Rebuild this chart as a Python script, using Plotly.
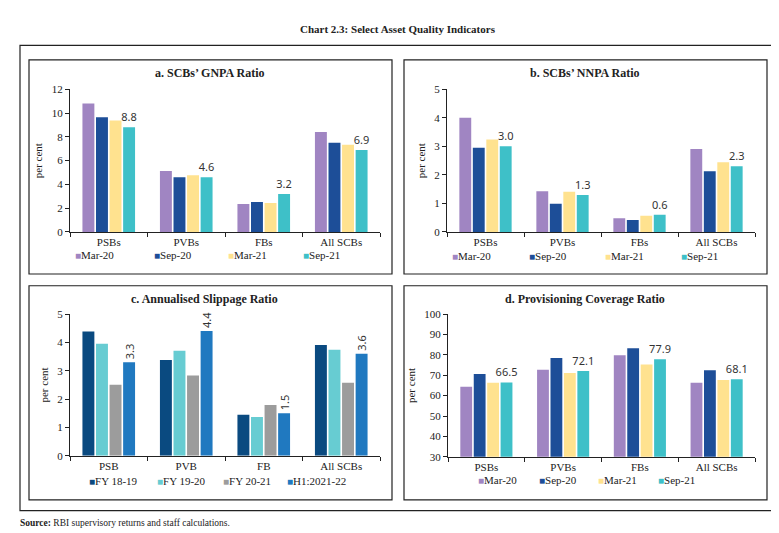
import plotly.graph_objects as go

# ---------------- data ----------------
cats_a = ["PSBs", "PVBs", "FBs", "All SCBs"]
cats_c = ["PSB", "PVB", "FB", "All SCBs"]
periods = ["Mar-20", "Sep-20", "Mar-21", "Sep-21"]
fy_periods = ["FY 18-19", "FY 19-20", "FY 20-21", "H1:2021-22"]

gnpa_mar20 = [10.8, 5.12, 2.36, 8.41]
gnpa_sep20 = [9.64, 4.6, 2.52, 7.5]
gnpa_mar21 = [9.37, 4.77, 2.44, 7.34]
gnpa_sep21 = [8.8, 4.6, 3.2, 6.9]

nnpa_mar20 = [4.0, 1.43, 0.48, 2.91]
nnpa_sep20 = [2.95, 0.99, 0.42, 2.13]
nnpa_mar21 = [3.24, 1.41, 0.57, 2.44]
nnpa_sep21 = [3.0, 1.3, 0.6, 2.3]

slip_fy1819 = [4.39, 3.38, 1.45, 3.91]
slip_fy1920 = [3.95, 3.71, 1.37, 3.74]
slip_fy2021 = [2.51, 2.83, 1.79, 2.58]
slip_h12122 = [3.3, 4.4, 1.5, 3.6]

pcr_mar20 = [64.3, 72.7, 79.8, 66.3]
pcr_sep20 = [70.6, 78.5, 83.3, 72.5]
pcr_mar21 = [66.3, 71.1, 75.3, 67.7]
pcr_sep21 = [66.5, 72.1, 77.9, 68.1]

# ---------------- styles ----------------
col_periods = ["#A085C2", "#1D4E98", "#FFE28F", "#3EC0C8"]
col_fy = ["#0A4A80", "#67CCD2", "#9C9C9C", "#2079C0"]

W, H = 779, 533
SERIF = "Liberation Serif"
SANS = "Noto Sans"


def px(x):
    return x / W


def py(y):
    return 1 - y / H


fig = go.Figure()

panels = [
    ("x", "y", cats_a, [gnpa_mar20, gnpa_sep20, gnpa_mar21, gnpa_sep21], periods, col_periods, 0),
    ("x2", "y2", cats_a, [nnpa_mar20, nnpa_sep20, nnpa_mar21, nnpa_sep21], periods, col_periods, 0),
    ("x3", "y3", cats_c, [slip_fy1819, slip_fy1920, slip_fy2021, slip_h12122], fy_periods, col_fy, -90),
    ("x4", "y4", cats_a, [pcr_mar20, pcr_sep20, pcr_mar21, pcr_sep21], periods, col_periods, 0),
]

for xa, ya, cats, series, names, cols, ang in panels:
    for i, (vals, nm, c) in enumerate(zip(series, names, cols)):
        last = i == len(series) - 1
        fig.add_trace(go.Bar(
            x=cats, y=vals, name=nm, marker=dict(color=c, line=dict(width=0)),
            xaxis=xa, yaxis=ya, showlegend=False,
            text=[f"{v:.1f}" for v in vals] if last else None,
            textposition="outside" if last else "none",
            textangle=ang, constraintext="none",
            textfont=dict(family=SANS, size=11, color="#333333"),
            cliponaxis=False,
            hoverinfo="x+y+name",
        ))

doms = {
    "a": dict(x=[px(62), px(372)], y=[py(223), py(77)]),
    "b": dict(x=[px(439), px(747)], y=[py(223), py(77)]),
    "c": dict(x=[px(62), px(372)], y=[py(452), py(307)]),
    "d": dict(x=[px(440), px(747)], y=[py(453), py(307)]),
}
yranges = {"a": ([0, 12], 2), "b": ([0, 5], 1), "c": ([0, 5], 1), "d": ([30, 100], 10)}

axfont = dict(family=SERIF, size=11, color="#222222")
for key, suf in [("a", ""), ("b", "2"), ("c", "3"), ("d", "4")]:
    fig.layout["xaxis" + suf] = dict(
        domain=doms[key]["x"], anchor="y" + suf, showline=True, linecolor="#222222", linewidth=1,
        ticks="outside", tickson="boundaries", ticklen=4, tickcolor="#222222",
        tickfont=axfont, showgrid=False, zeroline=False, fixedrange=True,
    )
    rng, dt = yranges[key]
    fig.layout["yaxis" + suf] = dict(
        domain=doms[key]["y"], anchor="x" + suf, range=rng, dtick=dt, showline=True,
        linecolor="#222222", linewidth=1, ticks="outside", ticklen=4, tickcolor="#222222",
        tickfont=axfont, showgrid=False, zeroline=False, fixedrange=True,
        title=dict(text="per cent", font=dict(family=SERIF, size=11, color="#222222"), standoff=6),
    )

shapes = [dict(type="rect", xref="paper", yref="paper", x0=px(12), x1=px(770), y0=py(508), y1=py(32),
               line=dict(color="#222222", width=1.2))]
for (x0, y0, x1, y1) in [(21, 47, 384, 266), (396, 47, 759, 266), (21, 278, 384, 497), (396, 278, 759, 497)]:
    shapes.append(dict(type="rect", xref="paper", yref="paper", x0=px(x0), x1=px(x1), y0=py(y1), y1=py(y0),
                       line=dict(color="#222222", width=1.2)))
fig.update_layout(shapes=shapes)

ann = []
ann.append(dict(text="<b>Chart 2.3: Select Asset Quality Indicators</b>", x=px(390), y=py(15), xref="paper",
                yref="paper", showarrow=False, font=dict(family=SERIF, size=11, color="#222222"),
                xanchor="center", yanchor="middle"))
titles = [("a. SCBs’ GNPA Ratio", 202, 60), ("b. SCBs’ NNPA Ratio", 577, 60),
          ("c. Annualised Slippage Ratio", 197, 292), ("d. Provisioning Coverage Ratio", 577, 292)]
for t, x, y in titles:
    ann.append(dict(text=f"<b>{t}</b>", x=px(x), y=py(y), xref="paper", yref="paper", showarrow=False,
                    font=dict(family=SERIF, size=12, color="#222222"), xanchor="center", yanchor="middle"))

leg_pos = [
    (periods, col_periods, [69, 148, 222, 297], 247),
    (periods, col_periods, [446, 523, 599, 675], 248),
    (fy_periods, col_fy, [83, 151, 217, 281], 478),
    (periods, col_periods, [472, 533, 592, 652], 477),
]
for names, cols, xs, y in leg_pos:
    for nm, c, x in zip(names, cols, xs):
        ann.append(dict(text=f"<span style='color:{c};font-size:10px'>■</span>{nm}", x=px(x - 4), y=py(y),
                        xref="paper", yref="paper", showarrow=False, xanchor="left", yanchor="middle",
                        font=dict(family=SERIF, size=11, color="#222222")))

ann.append(dict(text="<b>Source:</b> RBI supervisory returns and staff calculations.", x=px(10), y=py(521),
                xref="paper", yref="paper", showarrow=False, xanchor="left", yanchor="middle",
                font=dict(family=SERIF, size=9.5, color="#222222")))
fig.update_layout(annotations=ann)

fig.update_layout(
    width=W, height=H, margin=dict(l=0, r=0, t=0, b=0),
    paper_bgcolor="white", plot_bgcolor="white",
    barmode="group", bargap=0.3, bargroupgap=0.12, showlegend=False,
)

fig.write_html("out.html")
